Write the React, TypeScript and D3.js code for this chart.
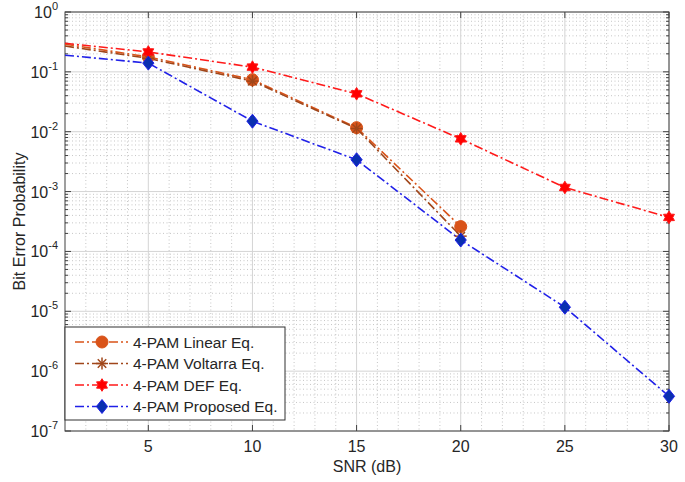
import React from 'react';
import * as d3 from 'd3';

const snrLong = [1, 5, 10, 15, 20, 25, 30];
const snrShort = [1, 5, 10, 15, 20];

const linearBer = [0.29, 0.178, 0.074, 0.0117, 2.6e-4];
const voltarraBer = [0.27, 0.168, 0.07, 0.0113, 1.8e-4];
const defBer = [0.3, 0.215, 0.12, 0.043, 0.0076, 1.17e-3, 3.7e-4];
const proposedBer = [0.19, 0.14, 0.015, 3.4e-3, 1.55e-4, 1.17e-5, 3.8e-7];

const xTicks = [5, 10, 15, 20, 25, 30];
const yExponents = [0, -1, -2, -3, -4, -5, -6, -7];

const W = 685;
const H = 482;
const margin = { left: 65, right: 16, top: 12, bottom: 51 };

const series = [
  { name: '4-PAM Linear Eq.', x: snrShort, y: linearBer, color: '#D95319', fill: '#D95319', marker: 'circle' },
  { name: '4-PAM Voltarra Eq.', x: snrShort, y: voltarraBer, color: '#A0461A', fill: '#A0461A', marker: 'asterisk' },
  { name: '4-PAM DEF Eq.', x: snrLong, y: defBer, color: '#FF1A1A', fill: '#FF0000', marker: 'hexagram' },
  { name: '4-PAM Proposed Eq.', x: snrLong, y: proposedBer, color: '#2020E8', fill: '#0A2FB0', marker: 'diamond' },
];

function hexagramPath(r: number) {
  const pts: string[] = [];
  for (let k = 0; k < 12; k++) {
    const a = (Math.PI / 6) * k - Math.PI / 2;
    const rr = k % 2 === 0 ? r : r * 0.6;
    pts.push(`${(rr * Math.cos(a)).toFixed(2)},${(rr * Math.sin(a)).toFixed(2)}`);
  }
  return 'M' + pts.join('L') + 'Z';
}

function Marker({ type, cx, cy, color, fill }: { type: string; cx: number; cy: number; color: string; fill: string }) {
  if (type === 'circle') {
    return <circle cx={cx} cy={cy} r={6} fill={fill} stroke={color} strokeWidth={1} />;
  }
  if (type === 'diamond') {
    const r = 7;
    return (
      <path
        d={`M${cx},${cy - r}L${cx + r * 0.8},${cy}L${cx},${cy + r}L${cx - r * 0.8},${cy}Z`}
        fill={fill}
        stroke={color}
        strokeWidth={1}
      />
    );
  }
  if (type === 'hexagram') {
    return <path d={hexagramPath(6.3)} transform={`translate(${cx},${cy})`} fill={fill} stroke={color} strokeWidth={1} />;
  }
  // asterisk
  const r = 6;
  const lines = [0, 45, 90, 135].map((deg) => {
    const a = (deg * Math.PI) / 180;
    return (
      <line
        key={deg}
        x1={cx - r * Math.cos(a)}
        y1={cy - r * Math.sin(a)}
        x2={cx + r * Math.cos(a)}
        y2={cy + r * Math.sin(a)}
        stroke={color}
        strokeWidth={1.5}
      />
    );
  });
  return <g>{lines}</g>;
}

export default function App() {
  const x = d3.scaleLinear().domain([1, 30]).range([margin.left, W - margin.right]);
  const y = d3.scaleLog().domain([1e-7, 1]).range([H - margin.bottom, margin.top]);
  const [x0, x1] = x.range();
  const [yb, yt] = y.range();

  const line = d3
    .line<[number, number]>()
    .x((d) => x(d[0]))
    .y((d) => y(d[1]));

  const minorY: number[] = [];
  for (let e = -7; e < 0; e++) {
    for (let m = 2; m <= 9; m++) minorY.push(m * Math.pow(10, e));
  }
  const minorX = d3.range(2, 30).filter((v) => v % 5 !== 0);

  const font = '"Liberation Sans", Arial, sans-serif';
  const dash = '9,3,2,3';

  const legendX = 65;
  const legendY = 327;
  const legendW = 220;
  const legendH = 93;
  const rowH = 21.5;

  return (
    <svg width={W} height={H} style={{ position: 'absolute', left: 0, top: 0, background: '#fff' }} fontFamily={font}>
      <rect x={0} y={0} width={W} height={H} fill="#fff" />
      {/* minor grid */}
      <g stroke="#b8b8b8" strokeWidth={0.8} strokeDasharray="1,2.5">
        {minorY.map((v) => (
          <line key={'my' + v} x1={x0} x2={x1} y1={y(v)} y2={y(v)} />
        ))}
        {minorX.map((v) => (
          <line key={'mx' + v} x1={x(v)} x2={x(v)} y1={yt} y2={yb} />
        ))}
      </g>
      {/* major grid */}
      <g stroke="#d4d4d4" strokeWidth={1}>
        {yExponents.map((e) => (
          <line key={'gy' + e} x1={x0} x2={x1} y1={y(Math.pow(10, e))} y2={y(Math.pow(10, e))} />
        ))}
        {xTicks.map((v) => (
          <line key={'gx' + v} x1={x(v)} x2={x(v)} y1={yt} y2={yb} />
        ))}
      </g>
      {/* axes box and ticks */}
      <g stroke="#404040" strokeWidth={1} fill="none">
        <rect x={x0} y={yt} width={x1 - x0} height={yb - yt} />
        {xTicks.map((v) => (
          <g key={'tx' + v}>
            <line x1={x(v)} x2={x(v)} y1={yb} y2={yb - 6} />
            <line x1={x(v)} x2={x(v)} y1={yt} y2={yt + 6} />
          </g>
        ))}
        {yExponents.map((e) => (
          <g key={'ty' + e}>
            <line x1={x0} x2={x0 + 6} y1={y(Math.pow(10, e))} y2={y(Math.pow(10, e))} />
            <line x1={x1} x2={x1 - 6} y1={y(Math.pow(10, e))} y2={y(Math.pow(10, e))} />
          </g>
        ))}
        {minorY.map((v) => (
          <g key={'tmy' + v}>
            <line x1={x0} x2={x0 + 3} y1={y(v)} y2={y(v)} />
            <line x1={x1} x2={x1 - 3} y1={y(v)} y2={y(v)} />
          </g>
        ))}
      </g>
      {/* tick labels */}
      <g fill="#262626" fontSize={16}>
        {xTicks.map((v) => (
          <text key={'lx' + v} x={x(v)} y={yb + 21} textAnchor="middle">
            {v}
          </text>
        ))}
        {yExponents.map((e) => (
          <text key={'ly' + e} x={x0 - 7} y={y(Math.pow(10, e)) + 6} textAnchor="end">
            10
            <tspan fontSize={11} dy={-8}>
              {e}
            </tspan>
          </text>
        ))}
      </g>
      <text x={(x0 + x1) / 2} y={H - 10} textAnchor="middle" fontSize={16} fill="#262626">
        SNR (dB)
      </text>
      <text
        transform={`translate(25,${(yt + yb) / 2}) rotate(-90)`}
        textAnchor="middle"
        fontSize={16}
        fill="#262626"
      >
        Bit Error Probability
      </text>
      {/* data */}
      <g>
        {series.map((s) => (
          <path
            key={s.name}
            d={line(s.x.map((v, i) => [v, s.y[i]] as [number, number])) || ''}
            fill="none"
            stroke={s.color}
            strokeWidth={1.6}
            strokeDasharray={dash}
          />
        ))}
        {series.map((s) =>
          s.x.map((v, i) =>
            i > 0 ? (
              <Marker key={s.name + i} type={s.marker} cx={x(v)} cy={y(s.y[i])} color={s.color} fill={s.fill} />
            ) : null
          )
        )}
      </g>
      {/* legend */}
      <g>
        <rect x={legendX} y={legendY} width={legendW} height={legendH} fill="#fff" stroke="#303030" strokeWidth={1} />
        {series.map((s, i) => {
          const cy = legendY + 15 + i * rowH;
          return (
            <g key={'lg' + s.name}>
              <line x1={legendX + 10} x2={legendX + 63} y1={cy} y2={cy} stroke={s.color} strokeWidth={1.6} strokeDasharray={dash} />
              <Marker type={s.marker} cx={legendX + 37} cy={cy} color={s.color} fill={s.fill} />
              <text x={legendX + 68} y={cy + 5.5} fontSize={15.5} fill="#262626">
                {s.name}
              </text>
            </g>
          );
        })}
      </g>
    </svg>
  );
}
